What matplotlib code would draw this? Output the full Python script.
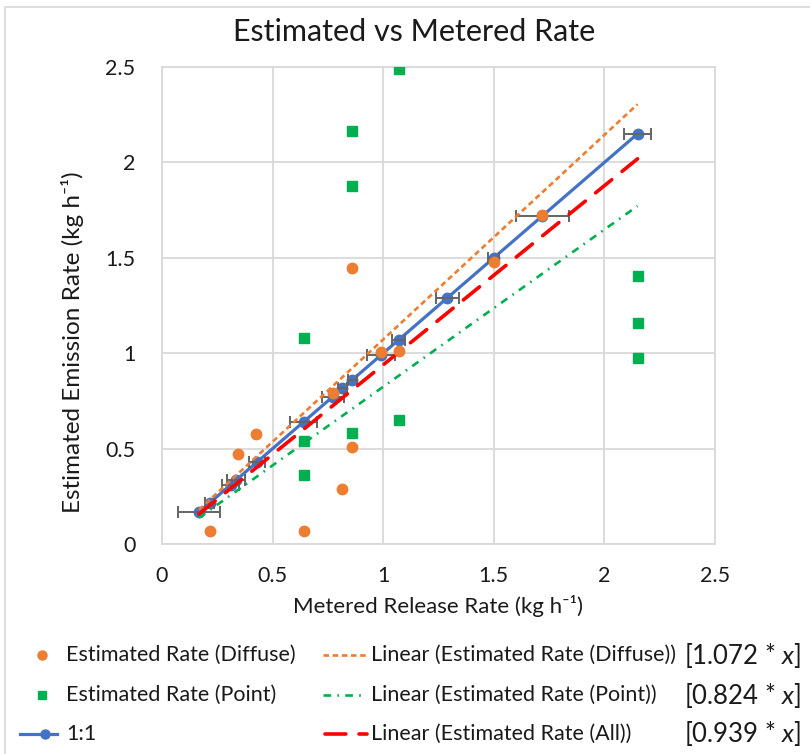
import matplotlib
matplotlib.use('Agg')
import matplotlib.pyplot as plt
from matplotlib.lines import Line2D
import numpy as np

"------------------DATA"
# 1:1 series (metered rate, with x error bars)
metered = [0.167, 0.215, 0.31, 0.335, 0.43, 0.64, 0.773, 0.815, 0.86, 0.99, 1.07, 1.29, 1.50, 1.72, 2.15]
metered_err = [0.095, 0.02, 0.04, 0.04, 0.035, 0.06, 0.05, 0.02, 0.02, 0.064, 0.03, 0.053, 0.025, 0.12, 0.06]

diffuse_x = [0.215, 0.343, 0.427, 0.64, 0.773, 0.815, 0.86, 0.86, 0.99, 1.07, 1.50, 1.72]
diffuse_y = [0.07, 0.47, 0.577, 0.07, 0.793, 0.287, 0.508, 1.445, 1.005, 1.01, 1.48, 1.724]

point_x = [0.64, 0.64, 0.64, 0.86, 0.86, 0.86, 1.07, 1.07, 2.15, 2.15, 2.15]
point_y = [1.081, 0.541, 0.362, 2.165, 1.876, 0.58, 2.49, 0.65, 1.406, 1.157, 0.973]

slope_diffuse = 1.072
slope_point = 0.824
slope_all = 0.939

ticks = [0, 0.5, 1, 1.5, 2, 2.5]
"----------------------"

plt.rcParams['font.family'] = ['Lato', 'DejaVu Sans']
plt.rcParams['mathtext.fontset'] = 'custom'
plt.rcParams['mathtext.rm'] = 'Lato'
plt.rcParams['mathtext.it'] = 'Lato:italic'
plt.rcParams['lines.scale_dashes'] = False

c_orange = '#ED7D31'
c_green = '#00B050'
c_blue = '#4472C4'
c_red = '#FF0000'
c_err = '#646464'
c_grid = '#D9D9D9'
c_txt = '#1A1A1A'

ls_orange = (0, (4.0, 2.6))
ls_green = (0, (5.5, 4.5, 1.2, 4.5))
ls_red = (0, (15.0, 9.5))

W, H = 810, 754
fig = plt.figure(figsize=(W/100, H/100), dpi=100)
ax = fig.add_axes([162/W, 1-544/H, (715-162)/W, (544-67)/H])

# 1:1 line with x error bars
ax.errorbar(metered, metered, xerr=metered_err, fmt='none', ecolor=c_err,
            elinewidth=1.4, capsize=4, capthick=1.4, zorder=3)
ax.plot(metered, metered, '-o', color=c_blue, lw=2.3, ms=7.5, zorder=2)

# trendlines (through origin)
fit_x = np.array([min(metered), max(metered)])
ax.plot(fit_x, slope_diffuse*fit_x, color=c_orange, lw=1.9, linestyle=ls_orange, zorder=4)
ax.plot(fit_x, slope_point*fit_x, color=c_green, lw=1.9, linestyle=ls_green, zorder=4)
ax.plot(fit_x, slope_all*fit_x, color=c_red, lw=2.6, linestyle=ls_red,
        dash_capstyle='round', zorder=4)

ax.plot(diffuse_x, diffuse_y, 'o', color=c_orange, ms=7.5, zorder=5)
ax.plot(point_x, point_y, 's', color=c_green, ms=6.5, zorder=5)

ax.set_xlim(0, 2.5)
ax.set_ylim(0, 2.5)
ax.set_xticks(ticks)
ax.set_yticks(ticks)
ax.set_xticklabels([str(t) for t in ticks])
ax.set_yticklabels([str(t) for t in ticks])
ax.grid(True, color=c_grid, lw=1.3)
ax.set_axisbelow(True)
for s in ax.spines.values():
    s.set_color(c_grid)
    s.set_linewidth(1.3)
ax.tick_params(length=0, labelsize=15.5, pad=16, labelcolor=c_txt)
ax.tick_params(axis='y', pad=19)

ax.set_xlabel('Metered Release Rate (kg h⁻¹)', fontsize=16, color=c_txt)
ax.xaxis.set_label_coords(0.5, -(606-544)/(544-67), transform=ax.transAxes)
ax.xaxis.label.set_va('center')
ax.set_ylabel('Estimated Emission Rate (kg h⁻¹)', fontsize=17.5, color=c_txt)
ax.yaxis.set_label_coords(-(162-72)/(715-162), (544-342)/(544-67), transform=ax.transAxes)
ax.yaxis.label.set_va('center')
fig.text(414/W, 1-32/H, 'Estimated vs Metered Rate', fontsize=22, ha='center', va='center',
         color=c_txt)

# chart border
fig.add_artist(Line2D([5/W, 5/W], [0, 1-7/H], color=c_grid, lw=1.2))
fig.add_artist(Line2D([5/W, 1], [1-7/H, 1-7/H], color=c_grid, lw=1.2))

# legend built by hand
rows = [655, 695, 734]
fy = lambda y: 1-y/H
fx = lambda x: x/W
lsize = 15.5
fig.add_artist(Line2D([fx(42)], [fy(rows[0])], marker='o', color=c_orange, ms=6.5, lw=0))
fig.text(fx(66), fy(rows[0]), 'Estimated Rate (Diffuse)', fontsize=lsize, va='center', color=c_txt)
fig.add_artist(Line2D([fx(42)], [fy(rows[1])], marker='s', color=c_green, ms=5.5, lw=0))
fig.text(fx(66), fy(rows[1]), 'Estimated Rate (Point)', fontsize=lsize, va='center', color=c_txt)
fig.add_artist(Line2D([fx(20), fx(57)], [fy(rows[2])]*2, color=c_blue, lw=2.3))
fig.add_artist(Line2D([fx(45)], [fy(rows[2])], marker='o', color=c_blue, ms=6.5, lw=0))
fig.text(fx(66), fy(rows[2]), '1:1', fontsize=lsize, va='center', color=c_txt)

fig.add_artist(Line2D([fx(323), fx(368)], [fy(rows[0])]*2, color=c_orange, lw=1.9, linestyle=ls_orange))
fig.text(fx(371), fy(rows[0]), 'Linear (Estimated Rate (Diffuse))', fontsize=lsize, va='center', color=c_txt)
fig.add_artist(Line2D([fx(323), fx(362)], [fy(rows[1])]*2, color=c_green, lw=1.9, linestyle=ls_green))
fig.text(fx(371), fy(rows[1]), 'Linear (Estimated Rate (Point))', fontsize=lsize, va='center', color=c_txt)
fig.add_artist(Line2D([fx(325), fx(367)], [fy(rows[2])]*2, color=c_red, lw=2.6, linestyle=ls_red,
                      dash_capstyle='round'))
fig.text(fx(371), fy(rows[2]), 'Linear (Estimated Rate (All))', fontsize=lsize, va='center', color=c_txt)

for r, s in zip(rows, [slope_diffuse, slope_point, slope_all]):
    fig.text(fx(801), fy(r), '[%.3f * $\\mathit{x}$]' % s, fontsize=18.5, ha='right', va='center',
             color=c_txt)

fig.savefig('out.png', dpi=100)
